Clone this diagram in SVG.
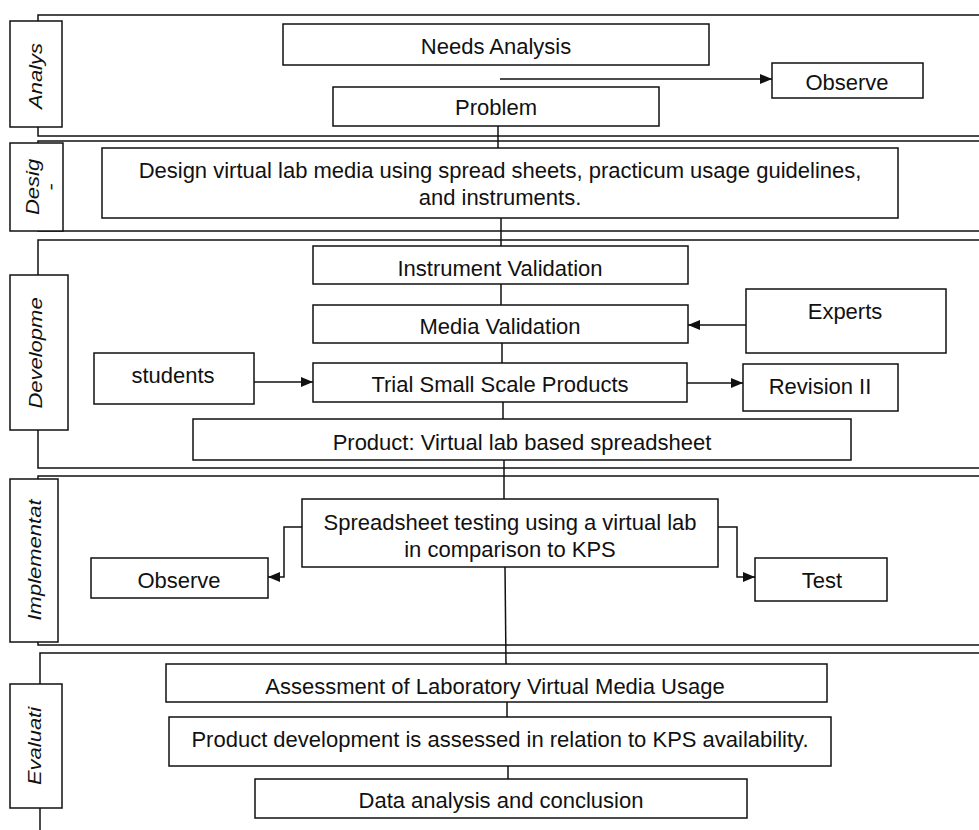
<svg xmlns="http://www.w3.org/2000/svg" width="979" height="830" viewBox="0 0 979 830">
<style>
.frame{fill:none;stroke:#111;stroke-width:1.5}
.box{fill:#fff;stroke:#111;stroke-width:1.5}
.lbl{fill:#fff;stroke:#111;stroke-width:1.5}
.t{font-family:"Liberation Sans",Arial,sans-serif;font-size:22px;fill:#111;text-anchor:middle}
.lt{font-family:"Liberation Sans",Arial,sans-serif;font-size:22px;font-style:italic;fill:#111;text-anchor:middle}
.c{fill:none;stroke:#111;stroke-width:1.5}
</style>
<defs>
<marker id="ah" viewBox="0 0 12 10" refX="12" refY="5" markerWidth="12" markerHeight="10" markerUnits="userSpaceOnUse" orient="auto">
<path d="M0,0 L12,5 L0,10 Z" fill="#111"/>
</marker>
</defs>
<rect width="979" height="830" fill="#fff"/>

<g id="frames">
<rect class="frame" x="38" y="15" width="960" height="121"/>
<rect class="frame" x="38" y="141" width="960" height="90"/>
<rect class="frame" x="38" y="240" width="960" height="228"/>
<rect class="frame" x="38" y="476" width="960" height="169"/>
<rect class="frame" x="40" y="653" width="960" height="200"/>
</g>

<g id="connectors">
<line class="c" x1="498" y1="126" x2="498" y2="148"/>
<line class="c" x1="501" y1="218" x2="501" y2="246"/>
<line class="c" x1="501" y1="284" x2="501" y2="305"/>
<line class="c" x1="502" y1="343" x2="502" y2="363"/>
<line class="c" x1="503" y1="402" x2="503" y2="419"/>
<line class="c" x1="504" y1="460" x2="504" y2="499"/>
<line class="c" x1="505" y1="567" x2="506" y2="664"/>
<line class="c" x1="507" y1="702" x2="507" y2="717"/>
<line class="c" x1="508" y1="766" x2="508" y2="779"/>
<line class="c" x1="500" y1="79" x2="772" y2="79" marker-end="url(#ah)"/>
<line class="c" x1="254" y1="382" x2="313" y2="382" marker-end="url(#ah)"/>
<line class="c" x1="746" y1="325" x2="688" y2="325" marker-end="url(#ah)"/>
<line class="c" x1="687" y1="383" x2="743" y2="383" marker-end="url(#ah)"/>
<polyline class="c" points="302,527 284,527 284,577 268,577" marker-end="url(#ah)"/>
<polyline class="c" points="718,527 737,527 737,577 755,577" marker-end="url(#ah)"/>
</g>

<g id="label-analysis">
<rect class="lbl" x="10" y="21" width="52" height="106"/>
<text class="lt" transform="translate(42,76) rotate(-90) scale(1,0.85)">Analys</text>
</g>
<g id="label-design">
<rect class="lbl" x="10" y="143" width="53" height="88"/>
<text class="lt" transform="translate(39,187) rotate(-90) scale(1,0.85)">Desig</text>
<text class="lt" transform="translate(57,187) rotate(-90) scale(1,0.85)">-</text>
</g>
<g id="label-development">
<rect class="lbl" x="10" y="275" width="58" height="155"/>
<text class="lt" transform="translate(42,353) rotate(-90) scale(1,0.85)">Developme</text>
</g>
<g id="label-implementation">
<rect class="lbl" x="10" y="479" width="48" height="163"/>
<text class="lt" transform="translate(41,560) rotate(-90) scale(1,0.85)">Implementat</text>
</g>
<g id="label-evaluation">
<rect class="lbl" x="10" y="684" width="52" height="124"/>
<text class="lt" transform="translate(41,746) rotate(-90) scale(1,0.85)">Evaluati</text>
</g>

<g id="needs-analysis">
<rect class="box" x="283" y="24" width="426" height="41"/>
<text class="t" x="496" y="54">Needs Analysis</text>
</g>
<g id="problem">
<rect class="box" x="333" y="87" width="326" height="39"/>
<text class="t" x="496" y="115">Problem</text>
</g>
<g id="observe-analysis">
<rect class="box" x="772" y="63" width="151" height="35"/>
<text class="t" x="847" y="90">Observe</text>
</g>
<g id="design">
<rect class="box" x="102" y="148" width="796" height="70"/>
<text class="t" x="500" y="178">Design virtual lab media using spread sheets, practicum usage guidelines,</text>
<text class="t" x="500" y="205">and instruments.</text>
</g>
<g id="instrument-validation">
<rect class="box" x="313" y="246" width="375" height="38"/>
<text class="t" x="500" y="276">Instrument Validation</text>
</g>
<g id="media-validation">
<rect class="box" x="313" y="305" width="375" height="38"/>
<text class="t" x="500" y="334">Media Validation</text>
</g>
<g id="trial">
<rect class="box" x="313" y="363" width="374" height="39"/>
<text class="t" x="500" y="392">Trial Small Scale Products</text>
</g>
<g id="students">
<rect class="box" x="94" y="353" width="160" height="51"/>
<text class="t" x="173" y="383">students</text>
</g>
<g id="experts">
<rect class="box" x="746" y="289" width="200" height="64"/>
<text class="t" x="845" y="319">Experts</text>
</g>
<g id="revision">
<rect class="box" x="743" y="364" width="155" height="47"/>
<text class="t" x="820" y="394">Revision II</text>
</g>
<g id="product">
<rect class="box" x="193" y="419" width="658" height="41"/>
<text class="t" x="522" y="450">Product: Virtual lab based spreadsheet</text>
</g>
<g id="spreadsheet-testing">
<rect class="box" x="302" y="499" width="416" height="68"/>
<text class="t" x="510" y="530">Spreadsheet testing using a virtual lab</text>
<text class="t" x="510" y="557">in comparison to KPS</text>
</g>
<g id="observe-impl">
<rect class="box" x="91" y="558" width="177" height="40"/>
<text class="t" x="179" y="588">Observe</text>
</g>
<g id="test">
<rect class="box" x="755" y="558" width="132" height="43"/>
<text class="t" x="822" y="588">Test</text>
</g>
<g id="assessment">
<rect class="box" x="166" y="664" width="661" height="38"/>
<text class="t" x="495" y="694">Assessment of Laboratory Virtual Media Usage</text>
</g>
<g id="product-development">
<rect class="box" x="169" y="717" width="662" height="49"/>
<text class="t" x="500" y="747">Product development is assessed in relation to KPS availability.</text>
</g>
<g id="data-analysis">
<rect class="box" x="255" y="779" width="492" height="39"/>
<text class="t" x="501" y="808">Data analysis and conclusion</text>
</g>
</svg>
